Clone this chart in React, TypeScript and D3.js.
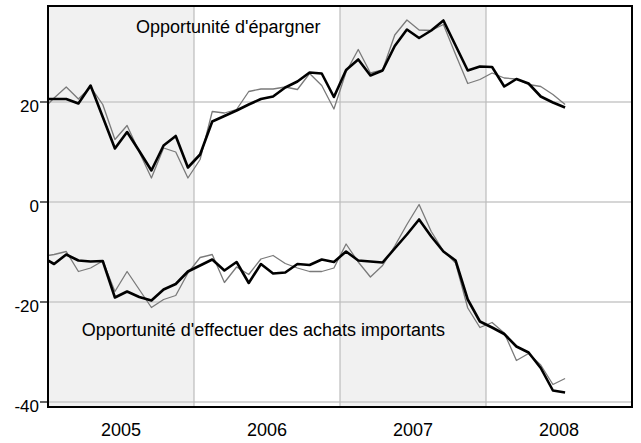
import React from "react";
import * as d3 from "d3";

// Monthly values, Dec 2004 .. Jul 2008 (mid-month)
const startYear = 2004;
const startMonth = 11; // December (0-based)

const savingMain = [20.6, 20.6, 20.6, 19.7, 23.3, 17.0, 10.7, 14.0, 10.2, 6.3, 11.3, 13.2, 6.9,
  9.5, 16.1, 17.2, 18.3, 19.5, 20.6, 21.1, 22.9, 24.1, 25.9, 25.7, 21.0,
  26.4, 28.5, 25.3, 26.3, 31.2, 34.5, 32.8, 34.3, 36.3, 31.3, 26.3, 27.1,
  27.0, 23.1, 24.6, 23.7, 21.1, 19.9, 18.9];
const savingRaw = [18.4, 20.8, 23.0, 20.6, 23.0, 19.5, 12.5, 15.3, 10.0, 4.8, 10.8, 10.0, 4.8,
  8.5, 18.1, 17.8, 18.5, 22.1, 22.6, 22.6, 23.0, 22.5, 25.7, 23.3, 18.6,
  26.0, 30.5, 25.8, 26.4, 33.4, 36.4, 34.4, 34.3, 35.5, 29.5, 23.7, 24.5,
  25.8, 24.8, 24.6, 23.5, 23.1, 21.5, 19.5];
const purchaseMain = [-11.0, -12.4, -10.5, -11.7, -11.9, -11.8, -19.1, -17.9, -19.0, -19.7, -17.5, -16.4, -13.9,
  -12.7, -11.5, -13.7, -12.0, -16.2, -12.4, -14.3, -14.1, -12.4, -12.6, -11.5, -12.0,
  -9.9, -11.7, -11.9, -12.1, -9.3, -6.5, -3.5, -6.9, -9.9, -11.7, -19.5, -23.9,
  -25.1, -26.4, -28.9, -30.1, -33.2, -37.7, -38.1];
const purchaseRaw = [-10.9, -10.5, -9.9, -13.9, -13.2, -11.8, -17.9, -13.9, -17.5, -21.1, -19.5, -18.7, -14.2,
  -11.1, -10.5, -16.1, -13.0, -14.5, -11.4, -10.7, -12.3, -13.2, -13.9, -13.9, -13.2,
  -8.4, -12.0, -15.0, -12.7, -8.8, -4.5, -0.5, -5.9, -9.8, -12.2, -21.2, -25.1,
  -24.1, -26.2, -31.7, -30.3, -32.6, -36.5, -35.3];

const years = [2005, 2006, 2007, 2008];
const shadedYears = [2005, 2007];
const yTicks = [-40, -20, 0, 20];
const labelSaving = "Opportunité d'épargner";
const labelPurchase = "Opportunité d'effectuer des achats importants";

const W = 641, H = 443;
const left = 48, right = 632, top = 6, bottom = 407;

export default function App() {
  const x = d3.scaleLinear().domain([2005, 2009]).range([left, right]);
  const y = d3.scaleLinear().domain([-41, 39.2]).range([bottom, top]);
  const t = (i: number) => startYear + (startMonth + i + 0.5) / 12;
  const line = d3.line<number>().x((_, i) => x(t(i))).y((d) => y(d));
  const font = "'Liberation Sans', Arial, sans-serif";

  return (
    <svg width={W} height={H} style={{ position: "absolute", left: 0, top: 0 }} fontFamily={font}>
      <defs>
        <clipPath id="plot">
          <rect x={left} y={top} width={right - left} height={bottom - top} />
        </clipPath>
      </defs>
      <rect x={0} y={0} width={W} height={H} fill="#fff" />
      {shadedYears.map((yr) => (
        <rect key={yr} x={x(yr)} y={top} width={x(yr + 1) - x(yr)} height={bottom - top} fill="#f1f1f1" />
      ))}
      {yTicks.map((v) => (
        <line key={v} x1={left} x2={right} y1={y(v)} y2={y(v)} stroke="#c8c8c8" strokeWidth={1.5} />
      ))}
      {years.slice(1).map((yr) => (
        <line key={yr} x1={x(yr)} x2={x(yr)} y1={top} y2={bottom} stroke="#bdbdbd" strokeWidth={1.2} />
      ))}
      <g clipPath="url(#plot)" fill="none" strokeLinejoin="round">
        <path d={line(savingRaw) || ""} stroke="#7a7a7a" strokeWidth={1.3} />
        <path d={line(purchaseRaw) || ""} stroke="#7a7a7a" strokeWidth={1.3} />
        <path d={line(savingMain) || ""} stroke="#000" strokeWidth={2.6} />
        <path d={line(purchaseMain) || ""} stroke="#000" strokeWidth={2.6} />
      </g>
      <rect x={left} y={top} width={right - left} height={bottom - top} fill="none" stroke="#000" strokeWidth={2} />
      {yTicks.map((v) => (
        <g key={v}>
          <line x1={40} x2={left} y1={y(v)} y2={y(v)} stroke="#000" strokeWidth={1.2} />
          <text x={39} y={y(v) + 10} textAnchor="end" fontSize={17} fill="#000">{v}</text>
        </g>
      ))}
      {years.map((yr) => (
        <text key={yr} x={(x(yr) + x(yr + 1)) / 2} y={435.5} textAnchor="middle" fontSize={18} fill="#000">{yr}</text>
      ))}
      <text x={136} y={33.3} fontSize={18} fill="#000">{labelSaving}</text>
      <text x={81.7} y={335.5} fontSize={18} fill="#000">{labelPurchase}</text>
    </svg>
  );
}
